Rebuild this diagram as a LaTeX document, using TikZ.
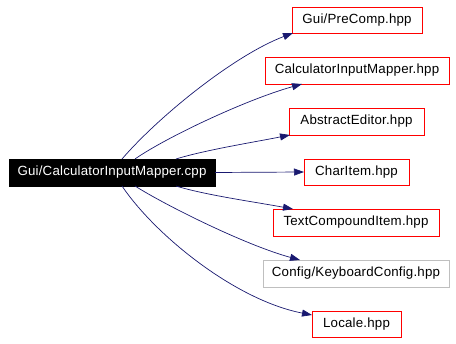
\documentclass[tikz,border=0pt]{standalone}
\usepackage{fontspec}
\setmainfont[LetterSpace=1.5]{Liberation Sans}
\usetikzlibrary{arrows.meta}
\definecolor{edgeblue}{RGB}{25,25,112}
\definecolor{lightframe}{RGB}{191,191,191}
\begin{document}
\begin{tikzpicture}[x=1pt,y=-1pt,
  every node/.style={font=\fontsize{13.3}{16}\selectfont, inner sep=0pt, outer sep=0pt},
  srcbox/.style={fill=black, text=white, draw=black, minimum height=27pt},
  hdrbox/.style={draw=red, line width=0.9pt, fill=white, minimum height=27pt},
  extbox/.style={draw=lightframe, line width=0.9pt, fill=white, minimum height=27pt},
  dep/.style={draw=edgeblue, line width=0.7pt, -{Triangle[length=10pt,width=7pt]}}]
\useasboundingbox (0,0) rectangle (456,344);

% source file
\node[srcbox, minimum width=206pt] (src) at (112,172.5) {Gui/CalculatorInputMapper.cpp};

% included headers
\node[hdrbox, minimum width=130pt, minimum height=26pt] (t1) at (357,20) {Gui/PreComp.hpp};
\node[hdrbox, minimum width=184pt] (t2) at (357,70.5) {CalculatorInputMapper.hpp};
\node[hdrbox, minimum width=135pt] (t3) at (356.5,121.5) {AbstractEditor.hpp};
\node[hdrbox, minimum width=105pt, minimum height=26pt] (t4) at (356.5,172) {CharItem.hpp};
\node[hdrbox, minimum width=166pt] (t5) at (356,222.5) {TextCompoundItem.hpp};
\node[extbox, minimum width=186pt] (t6) at (356,273.5) {Config/KeyboardConfig.hpp};
\node[hdrbox, minimum width=89pt, minimum height=26pt] (t7) at (356.5,324) {Locale.hpp};

% include edges
\draw[dep] ([xshift=10pt]src.north) .. controls (160,115) and (235,55) .. ([xshift=1pt]t1.south west);
\draw[dep] ([xshift=23pt]src.north) .. controls (165,138) and (245,100) .. ([xshift=37pt]t2.south west);
\draw[dep] ([xshift=64pt]src.north) .. controls (205,150) and (255,142) .. ([xshift=1pt]t3.south west);
\draw[dep] (src.east) -- (t4.west);
\draw[dep] ([xshift=64pt]src.south) .. controls (205,195) and (255,202) .. ([xshift=20pt]t5.north west);
\draw[dep] ([xshift=23pt]src.south) .. controls (165,205) and (245,245) .. ([xshift=37pt]t6.north west);
\draw[dep] ([xshift=10pt]src.south) .. controls (155,235) and (235,300) .. ([yshift=-4pt]t7.north west);
\end{tikzpicture}
\end{document}
